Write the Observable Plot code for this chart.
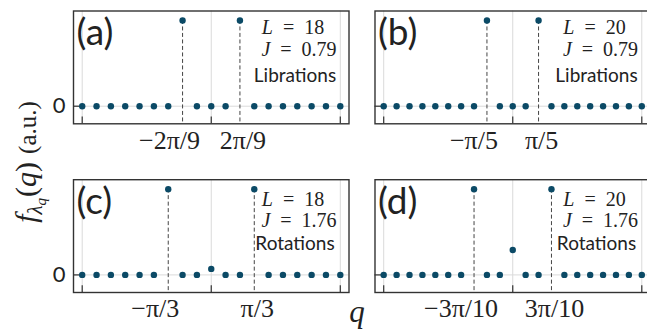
<!DOCTYPE html>
<html><head><meta charset="utf-8">
<script src="https://cdn.jsdelivr.net/npm/d3@7"></script>
<script src="https://cdn.jsdelivr.net/npm/@observablehq/plot@0.6"></script>
<style>
html,body{margin:0;padding:0;background:#fff;overflow:hidden;}
#chart{width:647px;height:335px;overflow:hidden;position:relative;background:#fff;}
</style></head><body><div id="chart"></div>
<script>
// ---- data ----
const panelLetters = ["(a)", "(b)", "(c)", "(d)"];
const panelCols = [0, 1, 0, 1];
const panelRows = [0, 0, 1, 1];
const chainLengths = [18, 20, 18, 20];
const couplings = ["0.79", "0.79", "1.76", "1.76"];
const regimes = ["Librations", "Librations", "Rotations", "Rotations"];
// f_{λq}(q) values for q = 2πk/L, k = -L/2 .. L/2
const valuesA = [0,0,0,0,0,0,0,1,0,0,0,1,0,0,0,0,0,0,0];
const valuesB = [0,0,0,0,0,0,0,0,1,0,0,0,1,0,0,0,0,0,0,0,0];
const valuesC = [0,0,0,0,0,0,1,0,0,0.07,0,0,1,0,0,0,0,0,0];
const valuesD = [0,0,0,0,0,0,0,1,0,0,0.29,0,0,1,0,0,0,0,0,0,0];
const panelValues = [valuesA, valuesB, valuesC, valuesD];
// labelled momenta (k index of ±q) and their labels
const labelK = [2, 2, 3, 3];
const tickLabelsNeg = ["−2π/9", "−π/5", "−π/3", "−3π/10"];
const tickLabelsPos = ["2π/9", "π/5", "π/3", "3π/10"];
const gridTicks = [-Math.PI, 0, Math.PI];
const yTicks = [0];
const yTickLabels = ["0"];

// ---- tables ----
const points = [];
panelValues.forEach((vals, p) => {
  const L = chainLengths[p];
  vals.forEach((v, i) => {
    const k = i - L / 2;
    points.push({col: panelCols[p], row: panelRows[p], q: 2 * Math.PI * k / L, v});
  });
});
const peaks = points.filter(d => d.v >= 0.5);
const panels = panelLetters.map((letter, p) => ({
  col: panelCols[p], row: panelRows[p], letter,
  lineL: "L\u2002=\u2002" + chainLengths[p],
  lineJ: "J\u2002=\u2002" + couplings[p],
  regime: regimes[p]
}));
const negLabels = panels.map((d, p) => ({col: d.col, row: d.row, q: -2 * Math.PI * labelK[p] / chainLengths[p], label: tickLabelsNeg[p]}));
const posLabels = panels.map((d, p) => ({col: d.col, row: d.row, q: 2 * Math.PI * labelK[p] / chainLengths[p], label: tickLabelsPos[p]}));
const zeroLabels = [];
[0, 1].forEach(row => yTicks.forEach((t, i) => zeroLabels.push({col: 0, row, v: t, label: yTickLabels[i]})));

const yDomain = [-0.205, 1.11];
const serif = "'Liberation Serif', 'DejaVu Serif', serif";
const sans = "Lato, 'Open Sans', sans-serif";
const ink = "#222";

function rowText(data, field, dyTop, dyBottom, opts) {
  return [0, 1].map(row => Plot.text(data.filter(d => d.row === row), {
    fx: "col", fy: "row", text: field, frameAnchor: "top-right", lineAnchor: "top",
    textAnchor: "middle", dy: row === 0 ? dyTop : dyBottom, fill: ink, ...opts
  }));
}

const chart = Plot.plot({
  width: 650, height: 335,
  marginLeft: 73, marginRight: 0, marginTop: 10.5, marginBottom: 43,
  x: {domain: [-Math.PI - 0.212, Math.PI + 0.212], axis: null},
  y: {domain: yDomain, axis: null},
  fx: {domain: [0, 1], axis: null, paddingInner: 0.0862, paddingOuter: 0, round: false},
  fy: {domain: [0, 1], axis: null, paddingInner: 0.3314, paddingOuter: 0, round: false},
  style: {fontFamily: sans, overflow: "visible", maxWidth: "none", background: "white", color: ink},
  marks: [
    Plot.ruleX(gridTicks, {stroke: "#dadada", strokeWidth: 1}),
    Plot.ruleY(yTicks, {stroke: "#dadada", strokeWidth: 1}),
    Plot.ruleX(peaks, {fx: "col", fy: "row", x: "q", y1: "v", y2: () => yDomain[0], stroke: "#444", strokeWidth: 1, strokeDasharray: "4,2.5"}),
    Plot.tickX(gridTicks, {stroke: "#333", strokeWidth: 1.2, insetTop: 106}),
    Plot.tickY(yTicks, {stroke: "#333", strokeWidth: 1.2, insetRight: 269}),
    Plot.dot(points, {fx: "col", fy: "row", x: "q", y: "v", r: 3.2, fill: "#0b4a66"}),
    Plot.frame({stroke: "#333", strokeWidth: 1.4}),
    Plot.text(panels, {fx: "col", fy: "row", text: "letter", frameAnchor: "top-left", lineAnchor: "top", dx: 3, dy: 8, fontSize: 37, fontFamily: sans, fill: ink}),
    ...rowText(panels, "lineL", 9, 12, {dx: -56, fontSize: 20, fontFamily: serif}),
    ...rowText(panels, "lineJ", 31, 33, {dx: -50, fontSize: 20, fontFamily: serif}),
    ...rowText(panels, "regime", 57, 57, {dx: -54, fontSize: 19, fontFamily: sans}),
    Plot.text(negLabels, {fx: "col", fy: "row", x: "q", text: "label", frameAnchor: "bottom", lineAnchor: "top", dy: 6.5, dx: -13, fontSize: 26, fontFamily: serif, fill: ink, letterSpacing: "1.5px"}),
    Plot.text(posLabels, {fx: "col", fy: "row", x: "q", text: "label", frameAnchor: "bottom", lineAnchor: "top", dy: 6.5, dx: 3, fontSize: 26, fontFamily: serif, fill: ink, letterSpacing: "1.5px"}),
    Plot.text(zeroLabels, {fx: "col", fy: "row", y: "v", text: "label", frameAnchor: "left", textAnchor: "end", dx: -8, fontSize: 22, fontFamily: sans, fill: ink})
  ]
});
document.getElementById("chart").appendChild(chart);

const svg = d3.select(chart.tagName.toLowerCase() === "svg" ? chart : chart.querySelector("svg"));
// italic variable in L = .., J = .. lines
svg.selectAll("text").filter(function () { return /^[LJ]\u2002=/.test(this.textContent); }).each(function () {
  const t = this.textContent;
  const s = d3.select(this);
  s.text(null);
  s.append("tspan").attr("font-style", "italic").text(t[0]);
  s.append("tspan").text(t.slice(1));
});
// y label
const yl = svg.append("text").attr("transform", "translate(36,162) rotate(-90)")
  .attr("text-anchor", "middle").attr("font-family", serif).attr("font-size", 30).attr("fill", ink);
yl.append("tspan").attr("font-style", "italic").text("f");
yl.append("tspan").attr("font-style", "italic").attr("font-size", 21).attr("dy", 6).text("λ");
yl.append("tspan").attr("font-style", "italic").attr("font-size", 15).attr("dy", 4).text("q");
yl.append("tspan").attr("dy", -10).attr("dx", 1).text("(");
yl.append("tspan").attr("font-style", "italic").text("q");
yl.append("tspan").text(")");
yl.append("tspan").attr("font-size", 25).attr("dx", 8).text("(a.u.)");
// x label
svg.append("text").attr("x", 357).attr("y", 322).attr("text-anchor", "middle")
  .attr("font-family", serif).attr("font-style", "italic").attr("font-size", 31).attr("fill", ink).text("q");
</script>
</body></html>
